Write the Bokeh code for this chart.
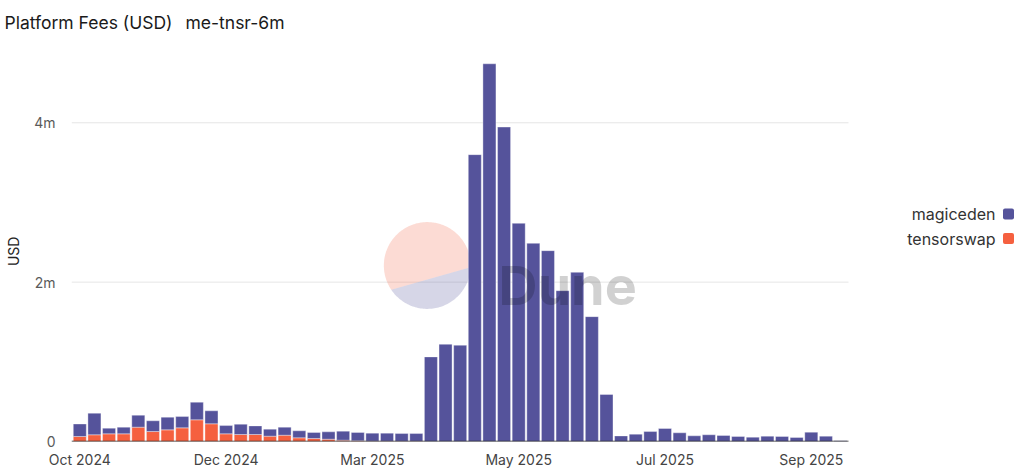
import numpy as np
import pandas as pd
from bokeh.plotting import figure
from bokeh.models import ColumnDataSource, FixedTicker, Label, BoxAnnotation, Range1d, Title
from bokeh.embed import file_html
from bokeh.resources import INLINE

# ---- data (weekly platform fees, USD) ----
weeks = pd.date_range("2024-10-14", periods=53, freq="7D")
week_labels = [d.strftime("%Y-%m-%d") for d in weeks]

magiceden = [157000, 271000, 71000, 84000, 150000, 135000, 159000, 142000, 221000, 163000,
             104000, 129000, 108000, 88000, 101000, 88000, 75000, 92000, 113000, 105000,
             101000, 102000, 98000, 98000, 1062000, 1220000, 1208000, 3600000, 4740000, 3946000,
             2738000, 2487000, 2395000, 1893000, 2123000, 1567000, 590000, 70000, 92000, 125000,
             163000, 109000, 71000, 84000, 75000, 63000, 54000, 67000, 63000, 50000,
             117000, 67000, 10000]
tensorswap = [63000, 84000, 96000, 96000, 180000, 125000, 146000, 171000, 272000, 222000,
              96000, 88000, 88000, 67000, 79000, 46000, 38000, 29000, 17000, 8000,
              4000, 3000, 2000, 2000] + [0] * 29

series = ["tensorswap", "magiceden"]
colors = ["#f5603f", "#55539b"]
legend_names = ["magiceden", "tensorswap"]
legend_colors = ["#55539b", "#f5603f"]
y_ticks = [0, 2000000, 4000000]
y_tick_labels = ["0", "2m", "4m"]
grid_ticks = [2000000, 4000000]
x_tick_idx = [0, 10, 20, 30, 40, 50]

# ---- layout constants ----
W, H = 1024, 471
ML, MR, MT, MB = 71, 0, 41, 30
FW, FH = W - ML - MR, H - MT - MB
PX_PER_BAR = 14.63
X0 = -0.567
X1 = X0 + FW / PX_PER_BAR
XD = X0 + 777 / PX_PER_BAR          # right edge of the plotting area (grid / axis line end)
Y0, Y1 = 0, 5020000
px_x = PX_PER_BAR
px_y = FH / (Y1 - Y0)

src = ColumnDataSource(dict(x=list(range(len(week_labels))), week=week_labels,
                            magiceden=magiceden, tensorswap=tensorswap))

p = figure(width=W, height=H, output_backend="svg", toolbar_location=None,
           x_range=Range1d(X0, X1), y_range=Range1d(Y0, Y1),
           min_border_left=ML, min_border_right=MR, min_border_top=MT, min_border_bottom=MB)
p.outline_line_color = None
p.background_fill_color = "white"
p.border_fill_color = "white"

p.title = Title(text="Platform Fees (USD)\u00a0\u00a0\u2009me-tnsr-6m", align="left", offset=-67,
                text_font="Inter", text_font_size="17.5px", text_font_style="normal",
                text_color="#1a1a1a", standoff=18, vertical_align="bottom")

# ---- horizontal grid lines (only across the bar area) ----
p.segment(x0=[X0] * len(grid_ticks), x1=[XD] * len(grid_ticks), y0=grid_ticks, y1=grid_ticks,
          line_color="#e6e6e6", line_width=1)

# ---- watermark circle (behind bars) ----
cx, cy, r = 23.75, 176 / px_y, 43.4
a_start, a_end = np.deg2rad(214), np.deg2rad(357.8)
t_lav = np.linspace(a_start, a_end, 80)
t_pink = np.linspace(a_end - 2 * np.pi, a_start, 160)
p.patch(cx + r * np.cos(t_pink) / px_x, cy + r * np.sin(t_pink) / px_y,
        fill_color="#f05a3c", fill_alpha=0.22, line_color=None)
p.patch(cx + r * np.cos(t_lav) / px_x, cy + r * np.sin(t_lav) / px_y,
        fill_color="#55539b", fill_alpha=0.24, line_color=None)

# ---- stacked bars ----
p.vbar_stack(series, x="x", width=0.89, color=colors, source=src,
             line_color="white", line_alpha=0.35, line_width=1)

# ---- baseline (x axis line across the bar area) ----
p.segment(x0=[X0], x1=[XD], y0=[0], y1=[0], line_color="#2a2a2a", line_width=1.5)

# ---- axes ----
p.xgrid.grid_line_color = None
p.ygrid.grid_line_color = None

p.yaxis.ticker = FixedTicker(ticks=y_ticks)
p.yaxis.major_label_overrides = {t: l for t, l in zip(y_ticks, y_tick_labels)}
p.yaxis.axis_line_color = None
p.yaxis.major_tick_line_color = None
p.yaxis.minor_tick_line_color = None
p.yaxis.major_label_text_font = "Inter"
p.yaxis.major_label_text_font_size = "14px"
p.yaxis.major_label_text_color = "#5a5a5a"
p.yaxis.major_label_standoff = 10
p.yaxis.axis_label = "USD" + "\u00a0" * 5
p.yaxis.axis_label_text_font = "Inter"
p.yaxis.axis_label_text_font_size = "14px"
p.yaxis.axis_label_text_font_style = "normal"
p.yaxis.axis_label_text_color = "#222222"
p.yaxis.axis_label_standoff = 9

p.xaxis.ticker = FixedTicker(ticks=x_tick_idx)
p.xaxis.major_label_overrides = {i: weeks[i].strftime("%b %Y") for i in x_tick_idx}
p.xaxis.axis_line_color = None
p.xaxis.major_tick_line_color = None
p.xaxis.minor_tick_line_color = None
p.xaxis.major_tick_out = 0
p.xaxis.major_tick_in = 0
p.xaxis.major_label_text_font = "Inter"
p.xaxis.major_label_text_font_size = "14px"
p.xaxis.major_label_text_color = "#444444"
p.xaxis.major_label_standoff = 9

# ---- watermark text ----
p.add_layout(Label(x=427, y=156, x_units="screen", y_units="screen", text="Dune",
                   text_font="Inter", text_font_style="bold", text_font_size="54px",
                   text_color="black", text_alpha=0.18, text_baseline="alphabetic"))

# ---- legend (text right-aligned, swatch on the right) ----
for k, (name, col) in enumerate(zip(legend_names, legend_colors)):
    yc = 227.5 - 24.5 * k
    p.add_layout(Label(x=924, y=yc, x_units="screen", y_units="screen", text=name,
                       text_align="right", text_baseline="middle", text_font="Inter",
                       text_font_size="16px", text_color="#333333"))
    p.add_layout(BoxAnnotation(left=931.5, right=942.5, bottom=yc - 5.5, top=yc + 5.5,
                               left_units="screen", right_units="screen",
                               bottom_units="screen", top_units="screen",
                               fill_color=col, fill_alpha=1.0, line_color=None,
                               border_radius=2))

open("out.html", "w").write(file_html(p, INLINE))
